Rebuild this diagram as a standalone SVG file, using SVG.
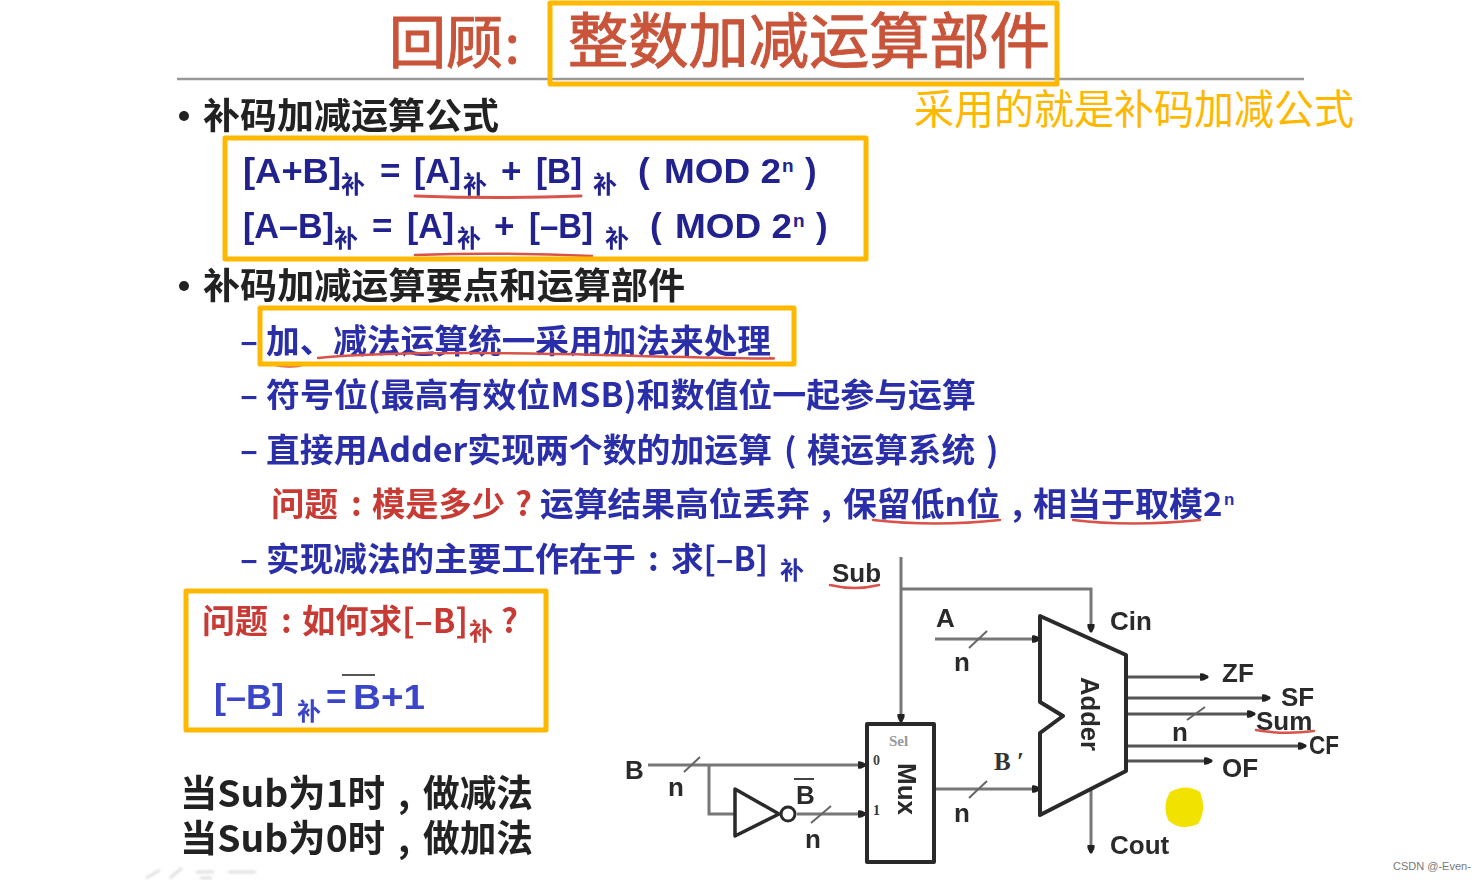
<svg xmlns="http://www.w3.org/2000/svg" width="1483" height="880" viewBox="0 0 1483 880">
<style>
text{font-family:"Liberation Sans","Noto Sans CJK SC",sans-serif;font-weight:700}
.cj{font-family:"Noto Sans CJK SC","Liberation Sans",sans-serif}
.blue{fill:#2a2fa8}
.navy{fill:#23238e}
.red{fill:#c83a34}
.blk{fill:#222}
.sub{font-size:24px;font-family:"Noto Sans CJK SC",sans-serif}
.f{font-size:35px}
.h{font-size:36px;fill:#222;font-family:"Noto Sans CJK SC",sans-serif}
.l{font-size:33px;font-family:"Noto Sans CJK SC","Liberation Sans",sans-serif}
.d{font-size:26px;fill:#2a2a2a}
.f,.h,.l,.d,.sub{filter:url(#soft)}
.box{fill:none;stroke:#ffb800;stroke-width:5;stroke-linejoin:round}
.wire{fill:none;stroke:#777;stroke-width:3}
.dark{fill:none;stroke:#555;stroke-width:3}
.shape{fill:#fff;stroke:#2a2a2a;stroke-width:4;stroke-linejoin:round}
.tick{fill:none;stroke:#666;stroke-width:2}
.ul{fill:none;stroke:#d9534a;stroke-width:2.5;stroke-linecap:round}
.ttl{fill:#c8543a;stroke:#c8543a;stroke-width:1;font-weight:400}
</style>
<defs>
<filter id="soft" x="-5%" y="-10%" width="110%" height="120%"><feGaussianBlur stdDeviation="0.6"/></filter>
<filter id="softer" x="-5%" y="-30%" width="110%" height="160%"><feGaussianBlur stdDeviation="1.2"/></filter>
<marker id="dot" markerUnits="userSpaceOnUse" markerWidth="12" markerHeight="12" refX="9" refY="6" orient="auto"><path d="M1 2.500Q5 1.500 10 6Q5 10.500 1 9.500Z" fill="#222"/></marker>
</defs>
<rect width="1483" height="880" fill="#fff"/>

<g id="title">
<line x1="177" y1="79" x2="1304" y2="79" stroke="#999" stroke-width="2.500"/>
<text class="cj ttl" x="389" y="63" font-size="57" textLength="114" lengthAdjust="spacingAndGlyphs">回顾</text>
<text class="cj ttl" x="505" y="63" font-size="52">:</text>
<text class="cj ttl" x="568" y="63" font-size="60" textLength="482" lengthAdjust="spacingAndGlyphs">整数加减运算部件</text>
<rect class="box" x="550" y="3" width="507" height="81"/>
</g>
<text id="note" class="cj" x="914" y="124" font-size="41" fill="#ffb800" style="font-weight:400" textLength="440" lengthAdjust="spacingAndGlyphs">采用的就是补码加减公式</text>

<g id="section1">
<circle cx="184" cy="116" r="5" fill="#222"/>
<text class="h" x="203" y="129" textLength="296" lengthAdjust="spacingAndGlyphs">补码加减运算公式</text>
</g>
<g id="formulas">
<text class="navy f" x="243" y="183" textLength="98" lengthAdjust="spacingAndGlyphs">[A+B]</text><text class="navy sub" x="341" y="193">补</text>
<text class="navy f" x="380" y="183">=</text>
<text class="navy f" x="414" y="183" textLength="47" lengthAdjust="spacingAndGlyphs">[A]</text><text class="navy sub" x="463" y="193">补</text>
<text class="navy f" x="501" y="183">+</text>
<text class="navy f" x="536" y="183" textLength="46" lengthAdjust="spacingAndGlyphs">[B]</text><text class="navy sub" x="593" y="193">补</text>
<text class="navy f" x="638" y="183">(</text><text class="navy f" x="664" y="183" textLength="117" lengthAdjust="spacingAndGlyphs">MOD 2</text><text class="navy" x="782" y="172" font-size="19">n</text><text class="navy f" x="805" y="183">)</text>
<path class="ul" style="stroke-width:3" d="M415 196Q500 199 581 196"/>
<text class="navy f" x="243" y="238" textLength="91" lengthAdjust="spacingAndGlyphs">[A–B]</text><text class="navy sub" x="334" y="247">补</text>
<text class="navy f" x="372" y="238">=</text>
<text class="navy f" x="407" y="238" textLength="47" lengthAdjust="spacingAndGlyphs">[A]</text><text class="navy sub" x="457" y="247">补</text>
<text class="navy f" x="494" y="238">+</text>
<text class="navy f" x="529" y="238" textLength="64" lengthAdjust="spacingAndGlyphs">[–B]</text><text class="navy sub" x="605" y="247">补</text>
<text class="navy f" x="650" y="238">(</text><text class="navy f" x="675" y="238" textLength="117" lengthAdjust="spacingAndGlyphs">MOD 2</text><text class="navy" x="793" y="227" font-size="19">n</text><text class="navy f" x="816" y="238">)</text>
<path class="ul" d="M415 255Q500 252 592 256"/>
<rect class="box" x="225" y="138" width="641" height="121"/>
</g>
<g id="section2">
<circle cx="184" cy="286" r="5" fill="#222"/>
<text class="h" x="203" y="299" textLength="482" lengthAdjust="spacingAndGlyphs">补码加减运算要点和运算部件</text>
</g>
<g id="points">
<text class="blue l" x="240" y="353">–</text>
<text class="blue l" x="266" y="353" textLength="505" lengthAdjust="spacingAndGlyphs">加、减法运算统一采用加法来处理</text>
<path class="ul" d="M272 364Q290 369 306 364M318 358Q400 350 600 355T770 358"/>
<rect class="box" x="260" y="308" width="534" height="56"/>
<text class="blue l" x="240" y="407">–</text>
<text class="blue l" x="266" y="407" textLength="710" lengthAdjust="spacingAndGlyphs">符号位(最高有效位MSB)和数值位一起参与运算</text>
<text class="blue l" x="240" y="462">–</text>
<text class="blue l" x="266" y="462" textLength="506" lengthAdjust="spacingAndGlyphs">直接用Adder实现两个数的加运算</text>
<text class="blue l" x="784" y="462">(</text>
<text class="blue l" x="807" y="462" textLength="168" lengthAdjust="spacingAndGlyphs">模运算系统</text>
<text class="blue l" x="986" y="462">)</text>
<text class="red l" x="271" y="516" textLength="67" lengthAdjust="spacingAndGlyphs">问题</text>
<text class="red l" x="351" y="516">:</text>
<text class="red l" x="372" y="516" textLength="133" lengthAdjust="spacingAndGlyphs">模是多少</text>
<text class="red l" x="515" y="516">?</text>
<text class="blue l" x="540" y="516" textLength="270" lengthAdjust="spacingAndGlyphs">运算结果高位丢弃</text>
<text class="blue l" x="821" y="516">,</text>
<text class="blue l" x="843" y="516" textLength="157" lengthAdjust="spacingAndGlyphs">保留低n位</text>
<text class="blue l" x="1012" y="516">,</text>
<text class="blue l" x="1033" y="516" textLength="170" lengthAdjust="spacingAndGlyphs">相当于取模</text>
<text class="blue l" x="1203" y="516">2</text><text class="blue" x="1224" y="505" font-size="17">n</text>
<path class="ul" d="M873 520Q935 527 1000 520M1073 520Q1130 527 1200 520"/>
<text class="blue l" x="240" y="571">–</text>
<text class="blue l" x="266" y="571" textLength="370" lengthAdjust="spacingAndGlyphs">实现减法的主要工作在于</text>
<text class="blue l" x="648" y="571">:</text>
<text class="blue l" x="671" y="571" textLength="97" lengthAdjust="spacingAndGlyphs">求[–B]</text>
<text class="blue sub" x="780" y="579">补</text>
</g>
<g id="question">
<text class="red l" x="202" y="633" textLength="66" lengthAdjust="spacingAndGlyphs">问题</text>
<text class="red l" x="281" y="633">:</text>
<text class="red l" x="302" y="633" textLength="166" lengthAdjust="spacingAndGlyphs">如何求[–B]</text>
<text class="red sub" x="469" y="640">补</text>
<text class="red l" x="501" y="633">?</text>
<text class="f" fill="#3a44c8" x="214" y="709" textLength="70" lengthAdjust="spacingAndGlyphs">[–B]</text>
<text class="sub" fill="#3a44c8" x="297" y="720">补</text>
<text class="f" fill="#3a44c8" x="326" y="709">=</text>
<text class="f" fill="#3a44c8" x="353" y="709" textLength="72" lengthAdjust="spacingAndGlyphs">B+1</text>
<line x1="342" y1="675" x2="375" y2="675" stroke="#555" stroke-width="2"/>
<rect class="box" x="186" y="591" width="360" height="139"/>
</g>
<g id="rules">
<text class="blk l" style="font-size:37px" x="180" y="807" textLength="205" lengthAdjust="spacingAndGlyphs">当Sub为1时</text>
<text class="blk l" style="font-size:37px" x="398" y="807">,</text>
<text class="blk l" style="font-size:37px" x="423" y="807" textLength="110" lengthAdjust="spacingAndGlyphs">做减法</text>
<text class="blk l" style="font-size:37px" x="180" y="852" textLength="205" lengthAdjust="spacingAndGlyphs">当Sub为0时</text>
<text class="blk l" style="font-size:37px" x="398" y="852">,</text>
<text class="blk l" style="font-size:37px" x="423" y="852" textLength="110" lengthAdjust="spacingAndGlyphs">做加法</text>
</g>
<path id="faint" d="M146 878L160 870M170 878L182 868M196 872H214M200 878H212M228 872H256" fill="none" stroke="#e2e2e2" stroke-width="3" filter="url(#softer)"/>

<g id="connectors">
<path class="wire" d="M901 557V722" marker-end="url(#dot)"/>
<path class="wire" d="M901 589H1091V632" marker-end="url(#dot)"/>
<path class="wire" d="M935 639H1040" marker-end="url(#dot)"/>
<path class="wire" d="M648 765H866" marker-end="url(#dot)"/>
<path class="wire" d="M709 765V814H736"/>
<path class="wire" d="M797 814H866" marker-end="url(#dot)"/>
<path class="wire" d="M935 789H1040" marker-end="url(#dot)"/>
<path class="dark" d="M1127 677H1208" marker-end="url(#dot)"/>
<path class="dark" d="M1127 698H1270" marker-end="url(#dot)"/>
<path class="dark" d="M1127 714H1255" marker-end="url(#dot)"/>
<path class="dark" d="M1127 746H1306" marker-end="url(#dot)"/>
<path class="dark" d="M1127 761H1212" marker-end="url(#dot)"/>
<path class="wire" d="M1091 790V853" marker-end="url(#dot)"/>
<path class="tick" d="M684 772L700 757M969 648L987 631M969 798L987 781M811 823L831 806M1187 720L1205 707"/>
</g>

<g id="adder">
<path class="shape" d="M1040 616L1126 655V771L1040 815V733L1063 716L1040 702Z"/>
<text class="d" transform="translate(1081 677) rotate(90)" textLength="74" lengthAdjust="spacingAndGlyphs">Adder</text>
</g>
<g id="mux">
<rect class="shape" x="867" y="724" width="67" height="138"/>
<text x="889" y="746" font-size="15" fill="#999" style="font-family:'Liberation Serif',serif">Sel</text>
<text x="873" y="765" font-size="14" fill="#444" style="font-family:'Liberation Serif',serif">0</text>
<text x="873" y="815" font-size="14" fill="#333" style="font-family:'Liberation Serif',serif">1</text>
<text class="d" transform="translate(898 763) rotate(90)" textLength="52" lengthAdjust="spacingAndGlyphs">Mux</text>
</g>
<g id="inverter">
<path d="M735 789L779 814L735 836Z" fill="#fff" stroke="#2a2a2a" stroke-width="3.500" stroke-linejoin="round"/>
<circle cx="788" cy="814" r="7" fill="#fff" stroke="#2a2a2a" stroke-width="3"/>
</g>
<g id="labels">
<text class="d" x="832" y="582">Sub</text>
<path class="ul" d="M830 585Q855 591 879 585"/>
<text class="d" x="936" y="627">A</text>
<text class="d" x="954" y="671">n</text>
<text class="d" x="625" y="779">B</text>
<text class="d" x="668" y="796">n</text>
<text class="d" x="796" y="804">B</text>
<line x1="794" y1="779" x2="814" y2="779" stroke="#444" stroke-width="2"/>
<text class="d" x="805" y="848">n</text>
<text class="d" x="954" y="822">n</text>
<text x="994" y="770" font-size="25" fill="#333" style="font-family:'Liberation Serif',serif">B ′</text>
<text class="d" x="1110" y="630">Cin</text>
<text class="d" x="1222" y="682">ZF</text>
<text class="d" x="1281" y="706">SF</text>
<text class="d" x="1256" y="730">Sum</text>
<path class="ul" d="M1256 730Q1285 735 1314 731"/>
<text class="d" x="1172" y="741">n</text>
<text class="d" x="1309" y="754" textLength="30" lengthAdjust="spacingAndGlyphs">CF</text>
<text class="d" x="1222" y="777">OF</text>
<text class="d" x="1110" y="854">Cout</text>
</g>
<path id="highlight" d="M1170 792Q1186 783 1200 792Q1207 810 1198 824Q1180 832 1168 820Q1162 805 1170 792Z" fill="#f2e200"/>
<text id="credit" x="1393" y="870" font-size="11" fill="#777" style="font-weight:400">CSDN @-Even-</text>
</svg>
